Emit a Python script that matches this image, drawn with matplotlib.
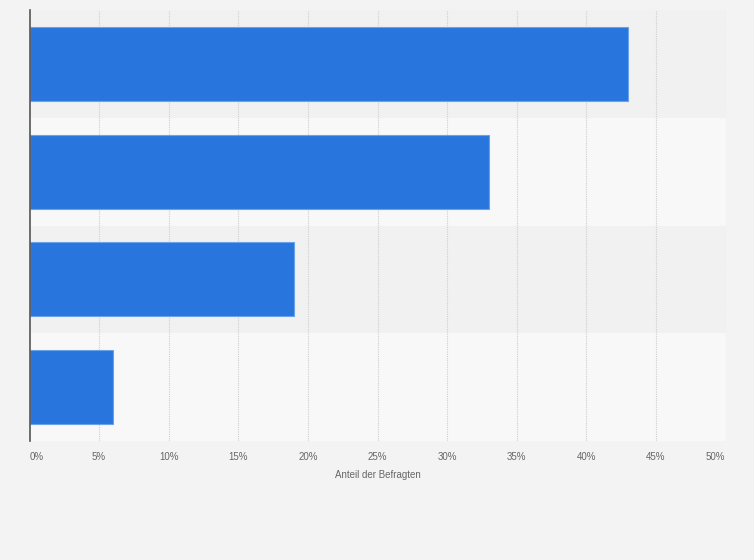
import matplotlib
matplotlib.use("Agg")
import matplotlib.pyplot as plt
from matplotlib.patches import Rectangle

plt.rcParams["font.family"] = ["Liberation Sans", "DejaVu Sans"]

categories = ["A", "B", "C", "D"]
values = [43, 33, 19, 6]
xticks = [0, 5, 10, 15, 20, 25, 30, 35, 40, 45, 50]
xtick_labels = [f"{t}%" for t in xticks]
xlabel = "Anteil der Befragten"

fig = plt.figure(figsize=(7.54, 5.6), dpi=100, facecolor="#f3f3f3")
ax = fig.add_axes([29.5 / 754, 1 - 441 / 560, (725.5 - 29.5) / 754, (441 - 10) / 560])
ax.set_facecolor("#f3f3f3")

n = len(categories)
ax.set_xlim(0, 50)
ax.set_ylim(n - 0.5, -0.5)

# alternating row bands
for i in range(n):
    col = "#f1f1f1" if i % 2 == 0 else "#f8f8f8"
    ax.add_patch(Rectangle((0, i - 0.5), 50, 1, facecolor=col, edgecolor="none", zorder=0,
                           transform=ax.transData))

for x in xticks[1:]:
    ax.axvline(x, color="#cfcfcf", linestyle=(0, (1, 1)), linewidth=0.8, zorder=1)

ax.barh(range(n), values, height=0.686, color="#2876dd", edgecolor="#6aa2ea",
        linewidth=0.8, zorder=2)

for s in ["top", "right", "bottom"]:
    ax.spines[s].set_visible(False)
ax.spines["left"].set_color("#555555")
ax.spines["left"].set_linewidth(1.2)
ax.spines["left"].set_zorder(3)

ax.set_yticks([])
ax.set_xticks(xticks)
ax.set_xticklabels(xtick_labels)
ax.tick_params(axis="x", length=0, pad=8, labelsize=7, labelcolor="#666666")
labels = ax.get_xticklabels()
labels[0].set_horizontalalignment("left")
labels[-1].set_horizontalalignment("right")
ax.set_xlabel(xlabel, fontsize=7, color="#666666", labelpad=6)

fig.savefig("out.png", dpi=100, facecolor=fig.get_facecolor())
